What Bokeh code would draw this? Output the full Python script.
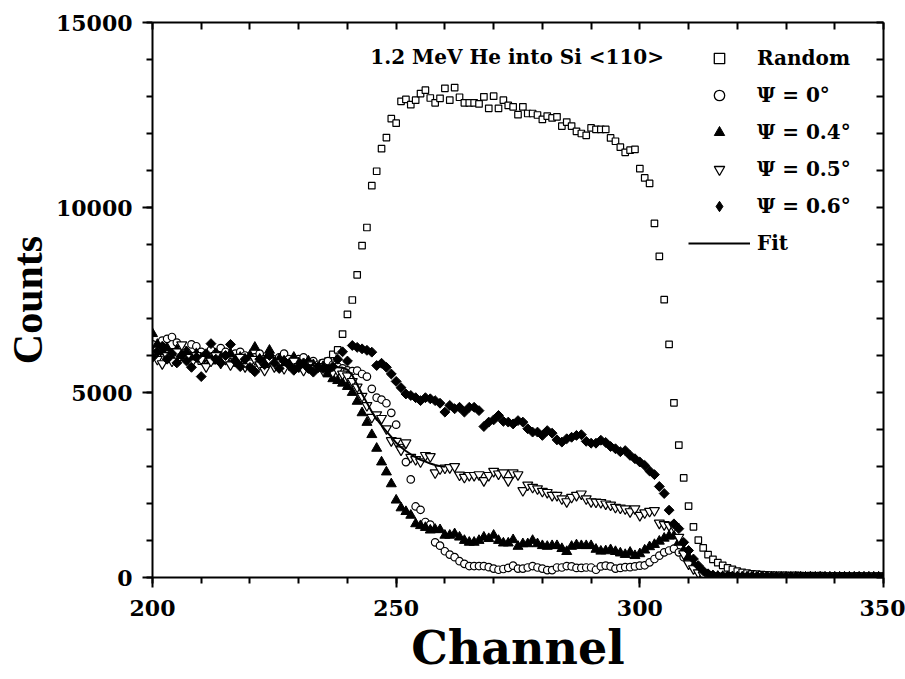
import numpy as np
from bokeh.plotting import figure
from bokeh.models import (LinearAxis, Range1d, Legend, LegendItem, Label,
                          SingleIntervalTicker, FixedTicker, ColumnDataSource)
from bokeh.embed import file_html
from bokeh.resources import INLINE

# ---------------- data ----------------
channel = list(range(200, 351))

random_counts = [
    6100, 6000, 6200, 5900, 6100, 6000, 5950, 6050, 5900, 6000,
    5850, 5950, 5900, 6000, 5850, 5950, 5900, 5800, 5900, 5850,
    5950, 5800, 5900, 5850, 5800, 5900, 5750, 5850, 5800, 5750,
    5850, 5700, 5800, 5750, 5700, 5800, 5850, 6030, 6150, 6580,
    7110, 7500, 8180, 8970, 9460, 10590, 10980, 11590, 11890, 12400,
    12280, 12870, 12920, 12780, 12900, 13080, 13170, 12960, 12830, 12950,
    13220, 12900, 13240, 12980, 12830, 12830, 12830, 12800, 12990, 12680,
    13010, 12680, 12900, 12760, 12720, 12510, 12720, 12540, 12540, 12500,
    12380, 12470, 12420, 12450, 12200, 12310, 12200, 12060, 12000, 11950,
    12150, 12110, 12110, 12110, 11880, 11790, 11630, 11490, 11550, 11570,
    11050, 10800, 10650, 9570, 8680, 7510, 6300, 4720, 3580, 2690,
    1930, 1370, 1010, 800, 620, 490, 400, 330, 260, 220,
    170, 140, 120, 100, 90, 80, 70, 65, 60, 55,
    55, 50, 55, 50, 45, 50, 45, 50, 45, 40,
    45, 40, 45, 40, 40, 45, 40, 35, 40, 35, 40,
]

psi_0 = [
    6300, 6200, 6400, 6450, 6500, 6350, 6200, 6100, 6300, 6250,
    6100, 6000, 6150, 6050, 6200, 6100, 5950, 6050, 6100, 6000,
    5900, 5950, 6050, 5900, 6000, 5850, 5950, 6050, 5900, 5800,
    5900, 5950, 5800, 5850, 5750, 5800, 5850, 5750, 5700, 5650,
    5600, 5580, 5590, 5500, 5430, 5100, 4860, 4810, 4710, 4450,
    4130, 3500, 3120, 2650, 1920, 1830, 1500, 1430, 950, 860,
    710, 620, 550, 440, 370, 310, 310, 310, 310, 280,
    240, 210, 230, 260, 320, 240, 240, 270, 310, 270,
    240, 200, 200, 270, 270, 310, 300, 260, 260, 270,
    270, 210, 300, 320, 300, 240, 260, 280, 280, 300,
    320, 330, 410, 500, 590, 680, 730, 780, 680, 550,
    460, 300, 200, 130, 80, 50, 40, 30, 30, 25,
    25, 20, 20, 20, 15, 15, 15, 10, 10, 10,
    10, 10, 10, 10, 10, 10, 10, 10, 10, 10,
    10, 10, 10, 10, 10, 10, 10, 10, 10, 10, 10,
]

psi_04 = [
    6590, 6300, 6100, 6200, 5900, 6150, 6000, 6100, 5950, 6050,
    5900, 6000, 5850, 6050, 5950, 5900, 6050, 5850, 5950, 5900,
    6000, 6220, 5900, 5850, 6140, 5800, 5900, 5850, 5750, 5950,
    5800, 5700, 5850, 5750, 5650, 5700, 5500, 5370, 5320, 5250,
    5160, 5000, 4760, 4450, 4190, 3860, 3490, 3120, 2850, 2530,
    2090, 1880, 1780, 1680, 1450, 1400, 1350, 1280, 1300, 1290,
    1140, 1140, 1180, 1090, 1000, 950, 950, 1000, 1090, 1050,
    1140, 1000, 930, 930, 1020, 840, 910, 910, 1000, 910,
    860, 840, 860, 860, 780, 700, 840, 880, 860, 860,
    860, 760, 710, 720, 750, 700, 660, 620, 680, 590,
    640, 740, 830, 890, 980, 1060, 1120, 1120, 950, 730,
    550, 350, 200, 120, 60, 40, 30, 25, 20, 20,
    15, 15, 15, 15, 10, 10, 10, 10, 10, 10,
    10, 10, 10, 10, 10, 10, 10, 10, 10, 10,
    10, 10, 10, 10, 10, 10, 10, 10, 10, 10, 10,
]

psi_05 = [
    6050, 5900, 5780, 6000, 5850, 6100, 6290, 5950, 5800, 6000,
    5900, 5700, 5850, 6000, 5800, 5900, 5750, 5850, 5950, 5700,
    5800, 5900, 5750, 5600, 5850, 5700, 5800, 5650, 5750, 5850,
    5700, 5600, 5750, 5650, 5700, 5600, 5650, 5550, 5600, 5500,
    5450, 5300, 5150, 4900, 4650, 4330, 4400, 4300, 4020, 3700,
    3680, 3450, 3640, 3250, 3190, 3130, 3300, 3270, 2830, 2940,
    2960, 2970, 3000, 2770, 2710, 2760, 2760, 2780, 2620, 2760,
    2870, 2800, 2830, 2620, 2830, 2780, 2350, 2500, 2440, 2400,
    2330, 2300, 2220, 2220, 2130, 2050, 2170, 2220, 2260, 2130,
    2050, 2040, 2030, 1990, 1960, 1900, 1880, 1860, 1780, 1860,
    1680, 1750, 1790, 1810, 1470, 1430, 1410, 1380, 1090, 640,
    370, 240, 130, 70, 40, 30, 25, 20, 20, 15,
    15, 15, 15, 10, 10, 10, 10, 10, 10, 10,
    10, 10, 10, 10, 10, 10, 10, 10, 10, 10,
    10, 10, 10, 10, 10, 10, 10, 10, 10, 10, 10,
]

psi_06 = [
    5950, 6100, 6250, 5900, 6050, 5800, 6000, 5850, 5680, 5950,
    5430, 6050, 6320, 5900, 5800, 6000, 6300, 5850, 5700, 5900,
    5680, 5560, 5900, 5750, 6000, 5800, 5650, 5850, 5750, 5600,
    5700, 5800, 5650, 5550, 5700, 5650, 5600, 5700, 5900, 6100,
    5850, 6270, 6220, 6180, 6140, 6090, 5730, 5790, 5680, 5500,
    5300, 5130, 4960, 4920, 4860, 4780, 4860, 4830, 4780, 4710,
    4470, 4650, 4560, 4600, 4470, 4600, 4600, 4510, 4080, 4200,
    4260, 4380, 4220, 4200, 4150, 4240, 4200, 4020, 3930, 3930,
    3840, 3970, 3900, 3720, 3660, 3750, 3790, 3840, 3860, 3680,
    3630, 3630, 3710, 3650, 3540, 3480, 3400, 3430, 3300, 3210,
    3120, 3030, 2880, 2780, 2460, 2270, 1820, 1450, 1320, 950,
    730, 500, 320, 180, 100, 60, 40, 30, 25, 20,
    15, 15, 15, 15, 10, 10, 10, 10, 10, 10,
    10, 10, 10, 10, 10, 10, 10, 10, 10, 10,
    10, 10, 10, 10, 10, 10, 10, 10, 10, 10, 10,
]

fit_channel = [230, 232, 234, 236, 238, 239, 240, 241, 242, 243, 244, 245,
               246, 247, 248, 249, 250, 251, 252, 253, 254, 255, 256, 257,
               258, 259, 260]
fit_counts = [5760, 5740, 5720, 5700, 5680, 5670, 5620, 5460, 5220, 4960,
              4720, 4480, 4280, 4110, 3950, 3800, 3640, 3520, 3420, 3330,
              3250, 3180, 3130, 3080, 3040, 3010, 2990]

# tick positions for the unlabeled mirror axes (top / right)
top_ticks = [200, 210, 220, 230, 240, 250, 260, 270, 280, 290,
             300, 310, 320, 330, 340, 350]
right_ticks = [0, 1000, 2000, 3000, 4000, 5000, 6000, 7000, 8000,
               9000, 10000, 11000, 12000, 13000, 14000, 15000]

legend_labels = ["Random", "\u03a8 = 0\u00b0", "\u03a8 = 0.4\u00b0",
                 "\u03a8 = 0.5\u00b0", "\u03a8 = 0.6\u00b0", "Fit"]
annotation_text = "1.2 MeV He into Si <110>"

# ---------------- figure ----------------
SERIF = "DejaVu Serif"

p = figure(width=905, height=679, output_backend="svg", toolbar_location=None,
           x_range=Range1d(200, 350), y_range=Range1d(0, 15000),
           min_border_left=152, min_border_right=22,
           min_border_top=22, min_border_bottom=102)
p.grid.visible = False
p.outline_line_color = None
p.background_fill_color = "white"
p.border_fill_color = "white"

xt = SingleIntervalTicker(interval=50, num_minor_ticks=5)
yt = SingleIntervalTicker(interval=5000, num_minor_ticks=5)
p.xaxis.ticker = xt
p.yaxis.ticker = yt

for ax in (p.xaxis[0], p.yaxis[0]):
    ax.axis_line_width = 2
    ax.axis_line_color = "black"
    ax.major_tick_line_width = 2
    ax.minor_tick_line_width = 2
    ax.major_tick_out = 10
    ax.major_tick_in = 0
    ax.minor_tick_out = 6
    ax.minor_tick_in = 0
    ax.major_label_text_font = SERIF
    ax.major_label_text_font_style = "bold"
    ax.major_label_text_font_size = "22px"
    ax.major_label_text_color = "black"
    ax.axis_label_text_font_style = "bold"
    ax.axis_label_text_color = "black"

p.xaxis.major_label_standoff = 12
p.yaxis.major_label_standoff = 10
p.xaxis.axis_label = "Channel"
p.xaxis.axis_label_text_font = SERIF
p.xaxis.axis_label_text_font_size = "46px"
p.xaxis.axis_label_standoff = 2
p.yaxis.axis_label = "Counts"
p.yaxis.axis_label_text_font = "Liberation Serif"
p.yaxis.axis_label_text_font_size = "42px"
p.yaxis.axis_label_standoff = 2

for loc, tk in (("above", FixedTicker(ticks=[], minor_ticks=top_ticks)),
                ("right", FixedTicker(ticks=[], minor_ticks=right_ticks))):
    ax = LinearAxis(ticker=tk)
    ax.axis_line_width = 2
    ax.axis_line_color = "black"
    ax.minor_tick_line_width = 2
    ax.minor_tick_in = 7
    ax.minor_tick_out = 0
    ax.major_tick_in = 0
    ax.major_tick_out = 0
    p.add_layout(ax, loc)

src = ColumnDataSource(dict(ch=channel, rnd=random_counts, p0=psi_0,
                            p04=psi_04, p05=psi_05, p06=psi_06))

p.scatter("ch", "rnd", source=src, marker="square", size=6.5,
          fill_color="white", line_color="black", line_width=1.2)
p.scatter("ch", "p0", source=src, marker="circle", size=7.5,
          fill_color="white", line_color="black", line_width=1.2)
p.scatter("ch", "p04", source=src, marker="triangle", size=10,
          fill_color="black", line_color="black", line_width=1)
p.scatter("ch", "p05", source=src, marker="inverted_triangle", size=10,
          fill_color="white", line_color="black", line_width=1.2)
p.scatter("ch", "p06", source=src, marker="square", size=7, angle=np.pi / 4,
          fill_color="black", line_color="black", line_width=1)
p.line(fit_channel, fit_counts, line_color="black", line_width=2)

# legend-only renderers (one NaN point each, so nothing is plotted)
nan_src = ColumnDataSource(dict(x=[np.nan], y=[np.nan]))
lg = []
lg.append(p.scatter("x", "y", source=nan_src, marker="square", size=9,
                    fill_color="white", line_color="black", line_width=1.3))
lg.append(p.scatter("x", "y", source=nan_src, marker="circle", size=10,
                    fill_color="white", line_color="black", line_width=1.3))
lg.append(p.scatter("x", "y", source=nan_src, marker="triangle", size=12,
                    fill_color="black", line_color="black", line_width=1))
lg.append(p.scatter("x", "y", source=nan_src, marker="inverted_triangle", size=12,
                    fill_color="white", line_color="black", line_width=1.3))
lg.append(p.scatter("x", "y", source=nan_src, marker="diamond", size=12,
                    fill_color="black", line_color="black", line_width=1))
lg.append(p.line("x", "y", source=nan_src, line_color="black", line_width=2))

legend = Legend(items=[LegendItem(label=l, renderers=[r]) for l, r in zip(legend_labels, lg)],
                location=(536, 321), orientation="vertical",
                glyph_width=62, glyph_height=26, label_height=26,
                label_standoff=7, spacing=11, padding=0, margin=0,
                label_text_font=SERIF, label_text_font_style="bold",
                label_text_font_size="20px", label_text_color="black",
                background_fill_alpha=0, border_line_color=None)
p.add_layout(legend)

p.add_layout(Label(x=244.7, y=14060, text=annotation_text,
                   text_font=SERIF, text_font_style="bold", text_font_size="20px",
                   text_color="black", text_align="left", text_baseline="alphabetic"))

open("out.html", "w").write(file_html(p, INLINE))
